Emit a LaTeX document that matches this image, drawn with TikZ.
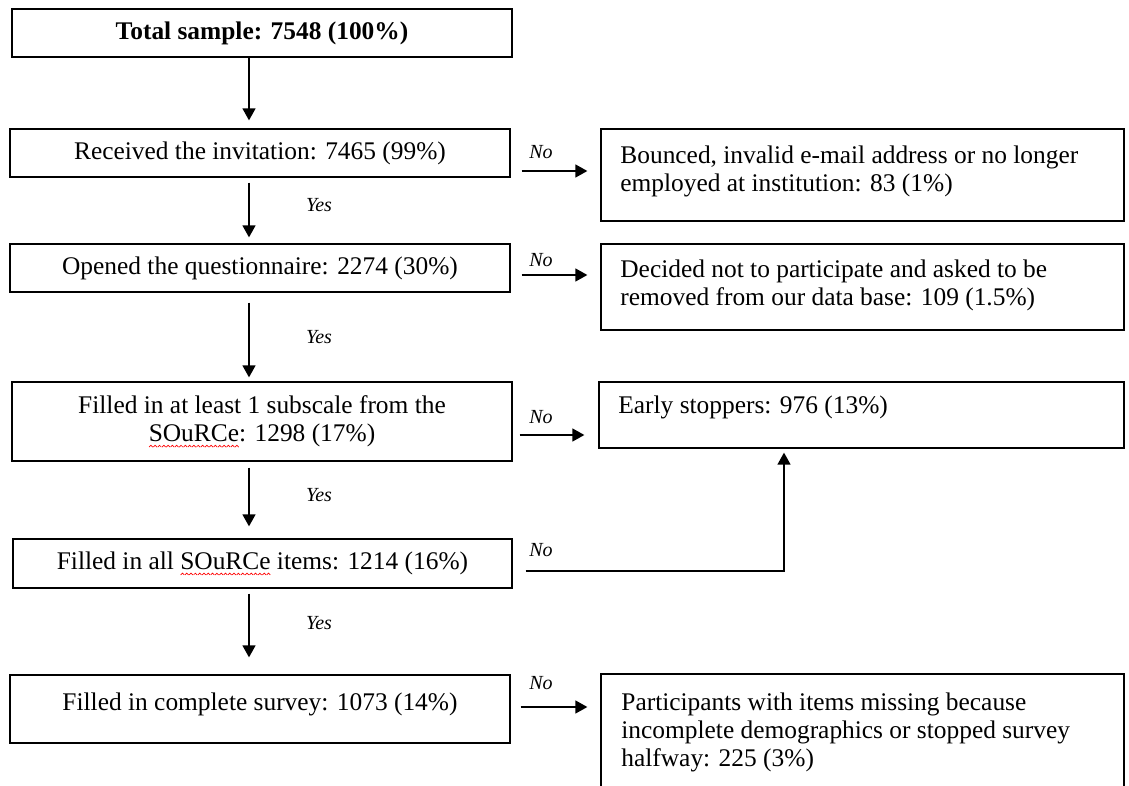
\documentclass[tikz,border=0pt]{standalone}
\usepackage{fontspec}
\setmainfont{Liberation Serif}
\usetikzlibrary{arrows.meta,calc}
\newcommand\spellwave[1]{\setbox0\hbox{#1}\rlap{\lower2.8pt\hbox to\wd0{\xleaders\hbox{\tikz[x=1pt,y=1pt,baseline=0pt]\draw[red,line width=0.35pt] (0,0)--(0.9,0.9)--(1.8,0);}\hfill}}\box0\relax}
\begin{document}
\begin{tikzpicture}[x=0.5pt,y=-0.5pt,
  box/.style={draw, line width=0.65pt, inner sep=0pt, font=\fontsize{12.7}{14}\selectfont, align=center},
  txt/.style={inner sep=0pt, font=\fontsize{12.7}{14}\selectfont, align=left},
  lab/.style={inner sep=0pt, font=\fontsize{10}{12}\selectfont\itshape},
  arr/.style={line width=0.7pt, -{Triangle[length=6pt,width=6.5pt]}}]
\clip (0,0) rectangle (1129,786);
% left column
\node[box, minimum width=250pt, minimum height=24pt] (b1) at (262,33) {\bfseries Total sample: 7548 (100\%)};
\node[box, minimum width=250pt, minimum height=24pt] (b2) at (260,153) {Received the invitation: 7465 (99\%)};
\node[box, minimum width=250pt, minimum height=24pt] (b3) at (260,268) {Opened the questionnaire: 2274 (30\%)};
\node[box, minimum width=250pt, minimum height=39.5pt] (b4) at (262,421.5) {Filled in at least 1 subscale from the\\\spellwave{SOuRCe}: 1298 (17\%)};
\node[box, minimum width=249.5pt, minimum height=24.5pt] (b5) at (262.5,563.5) {Filled in all \spellwave{SOuRCe} items: 1214 (16\%)};
\node[box, minimum width=250pt, minimum height=34pt] (b6) at (260,709) {};
\node[txt, anchor=base] (b6t) at (260,710) {Filled in complete survey: 1073 (14\%)};
% right column
\node[box, minimum width=261.5pt, minimum height=46pt] (r1) at (862.5,175) {};
\node[txt, anchor=base west] (r1t) at (620,192) {Bounced, invalid e-mail address or no longer\\employed at institution: 83 (1\%)};
\node[box, minimum width=261.5pt, minimum height=43pt] (r2) at (862.5,287) {};
\node[txt, anchor=base west] (r2t) at (620,306) {Decided not to participate and asked to be\\removed from our data base: 109 (1.5\%)};
\node[box, minimum width=262.5pt, minimum height=33pt] (r3) at (861.5,415) {};
\node[txt, anchor=base west] (r3t) at (618,413) {Early stoppers: 976 (13\%)};
\node[box, minimum width=261.5pt, minimum height=70pt] (r4) at (862.5,744) {};
\node[txt, anchor=base west] (r4t) at (621,766) {Participants with items missing because\\incomplete demographics or stopped survey\\halfway: 225 (3\%)};
% vertical arrows
\coordinate (xc) at (249,0);
\draw[arr, shorten >=4pt] (b1.south -| xc) -- (b2.north -| xc);
\draw[arr, shorten <=2.5pt, shorten >=3pt] (b2.south -| xc) -- (b3.north -| xc);
\draw[arr, shorten <=5pt, shorten >=2pt] (b3.south -| xc) -- (b4.north -| xc);
\draw[arr, shorten <=3pt, shorten >=6pt] (b4.south -| xc) -- (b5.north -| xc);
\draw[arr, shorten <=2.5pt, shorten >=8.5pt] (b5.south -| xc) -- (b6.north -| xc);
\node[lab] (y1) at (319,205) {Yes};
\node[lab] (y2) at (319,337) {Yes};
\node[lab] (y3) at (319,495) {Yes};
\node[lab] (y4) at (319,623) {Yes};
% horizontal arrows
\coordinate (a1) at ([yshift=-9pt]b2.east);
\coordinate (a2) at ([yshift=-3.5pt]b3.east);
\coordinate (a3) at ([yshift=-6.75pt]b4.east);
\coordinate (a4) at ([yshift=1pt]b6.east);
\coordinate (a5) at ([yshift=-3.75pt]b5.east);
\coordinate (xr) at (784,0);
\draw[arr, shorten <=5.5pt, shorten >=6.5pt] (a1) -- (a1 -| r1.west);
\draw[arr, shorten <=5.5pt, shorten >=6.5pt] (a2) -- (a2 -| r2.west);
\draw[arr, shorten <=3.5pt, shorten >=7pt] (a3) -- (a3 -| r3.west);
\draw[arr, shorten <=5pt, shorten >=6.5pt] (a4) -- (a4 -| r4.west);
\draw[arr, shorten <=6.5pt, shorten >=2pt] (a5) -| (r3.south -| xr);
\node[lab] (n1) at (541,152) {No};
\node[lab] (n2) at (541,260) {No};
\node[lab] (n3) at (541,417) {No};
\node[lab] (n4) at (541,550) {No};
\node[lab] (n5) at (541,683) {No};
\end{tikzpicture}
\end{document}
